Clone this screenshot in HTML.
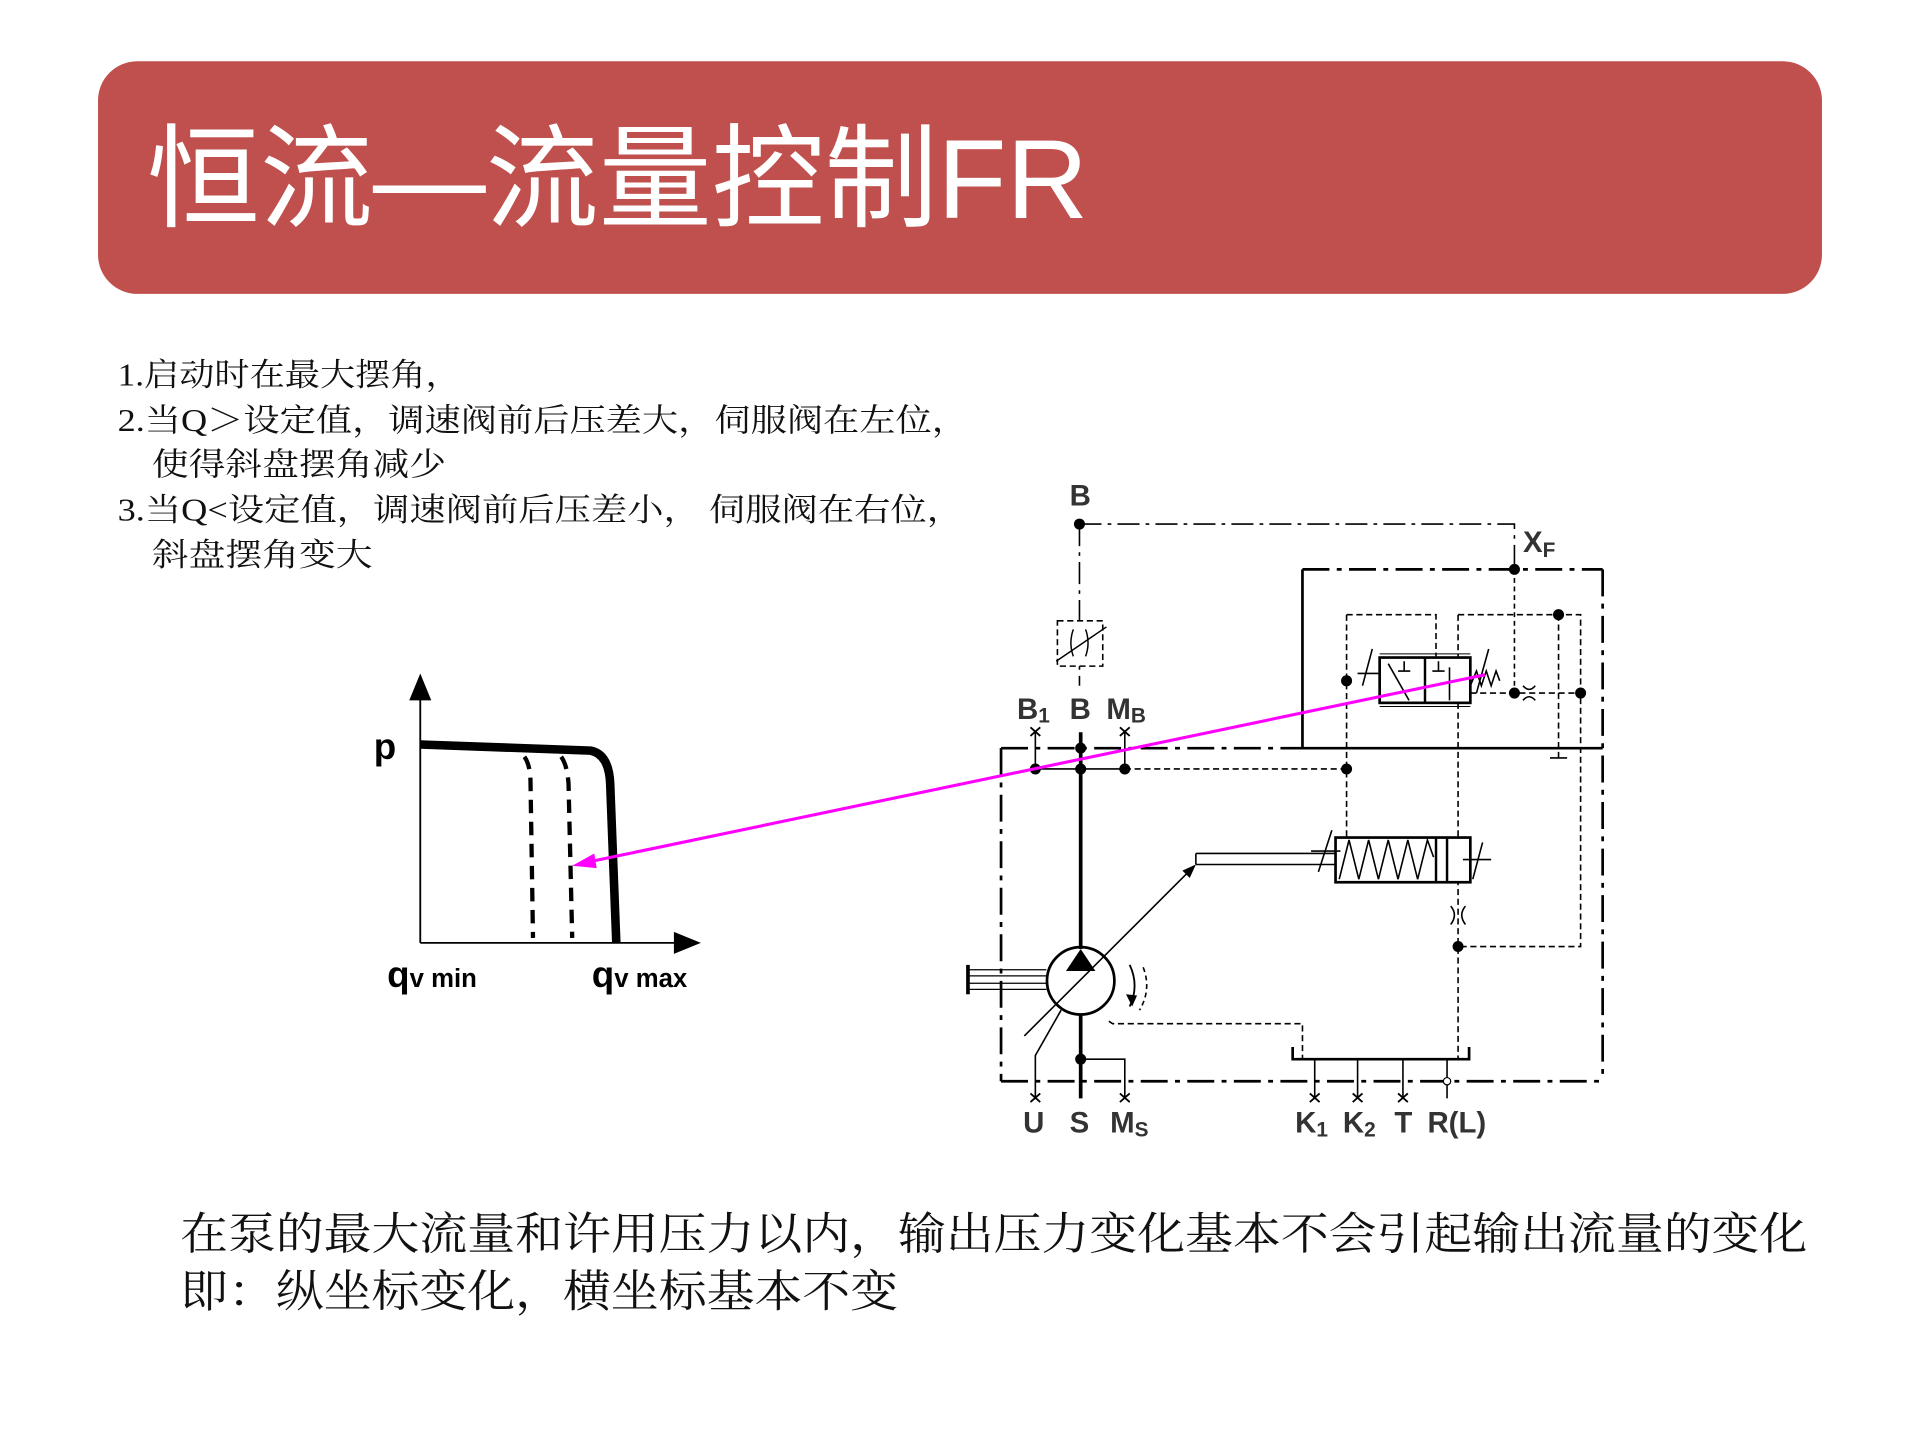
<!DOCTYPE html>
<html><head><meta charset="utf-8"><style>
html,body{margin:0;padding:0;background:#fff;}
svg{display:block;}
text{font-family:"Liberation Sans","Noto Sans CJK SC",sans-serif;}
.sf{font-family:"Liberation Serif","Noto Serif CJK SC",serif;}
</style></head><body>
<svg width="1920" height="1440" viewBox="0 0 1567 1176" preserveAspectRatio="none" xmlns="http://www.w3.org/2000/svg">
<rect x="80" y="50" width="1407" height="190" rx="32" fill="#c0504d"/>
<text x="120" y="178" font-size="92" fill="#fff" textLength="768" lengthAdjust="spacingAndGlyphs">恒流—流量控制FR</text>

<g font-size="26" fill="#111" class="sf">
<text class="sf" x="96" y="315" textLength="280" lengthAdjust="spacingAndGlyphs">1.启动时在最大摆角，</text>
<text class="sf" x="96" y="352" textLength="694" lengthAdjust="spacingAndGlyphs">2.当Q＞设定值，调速阀前后压差大，伺服阀在左位，</text>
<text class="sf" x="124" y="388" textLength="240" lengthAdjust="spacingAndGlyphs">使得斜盘摆角减少</text>
<text class="sf" x="96" y="425" textLength="690" lengthAdjust="spacingAndGlyphs">3.当Q&lt;设定值，调速阀前后压差小， 伺服阀在右位，</text>
<text class="sf" x="124" y="462" textLength="180" lengthAdjust="spacingAndGlyphs">斜盘摆角变大</text>
</g>
<g font-size="36" fill="#111">
<text class="sf" x="147" y="1020" textLength="1328" lengthAdjust="spacingAndGlyphs">在泵的最大流量和许用压力以内，输出压力变化基本不会引起输出流量的变化</text>
<text class="sf" x="147" y="1067" textLength="586" lengthAdjust="spacingAndGlyphs">即：纵坐标变化，横坐标基本不变</text>
</g>

<!-- graph -->
<g stroke="#000" fill="none">
<line x1="343" y1="770" x2="343" y2="565" stroke-width="1.5"/>
<line x1="343" y1="770" x2="555" y2="770" stroke-width="1.5"/>
<path d="M343,608 L482,613 Q497,616 498,640 L503,770" stroke-width="7"/>
<path d="M428,618 Q433,625 433,640 L435,766" stroke-width="3.5" stroke-dasharray="11,7"/>
<path d="M458,618 Q463,625 464,640 L467,766" stroke-width="3.5" stroke-dasharray="11,7"/>
</g>
<polygon points="343,550 334,572 352,572" fill="#000"/>
<polygon points="572,770 550,761 550,779" fill="#000"/>
<g font-weight="bold" fill="#000">
<text x="305" y="620" font-size="30">p</text>
<text x="316" y="806" font-size="30">q<tspan font-size="21">v min</tspan></text>
<text x="483" y="806" font-size="30">q<tspan font-size="21">v max</tspan></text>
</g>

<!-- hydraulic -->
<g stroke="#000" fill="none" stroke-width="1.3">
<path d="M881,428 L1236,428 L1236,465" stroke-dasharray="18,5,3,5"/>
<path d="M881,428 L881,560" stroke-dasharray="18,5,3,5"/>
<rect x="863" y="507" width="37" height="37" stroke-dasharray="5,3" fill="#fff"/>
<path d="M876,514 Q872,525 876,536 M886,514 Q890,525 886,536 M862,540 L903,512" stroke-width="1.2"/>
<path d="M1236,465 L1236,566" stroke-dasharray="4,3"/>
<path d="M817,611 L1063,611" stroke-width="2.2" stroke-dasharray="22,6,4,6"/>
<path d="M817,611 L817,883" stroke-width="2.2" stroke-dasharray="22,6,4,6"/>
<path d="M817,883 L1308,883" stroke-width="2.2" stroke-dasharray="22,6,4,6"/>
<path d="M1308,465 L1308,883" stroke-width="2.2" stroke-dasharray="22,6,4,6"/>
<path d="M1063,465 L1308,465" stroke-width="2.2" stroke-dasharray="22,6,4,6"/>
<path d="M1063,465 L1063,611 M1063,611 L1308,611" stroke-width="2.2"/>
<path d="M882,598 L882,775" stroke-width="3"/>
<path d="M882,828 L882,897" stroke-width="3"/>
<path d="M845,598 L845,628 L918,628 L918,598"/>
<path d="M918,628 L1099,628" stroke-dasharray="5,3"/>
<path d="M1099,502 L1099,684 M1099,502 L1172,502 L1172,536" stroke-dasharray="5,3"/>
<path d="M1190,502 L1290,502 L1290,773 L1190,773 M1190,502 L1190,865" stroke-dasharray="5,3"/>
<path d="M1272,502 L1272,619" stroke-dasharray="5,3"/>
<path d="M1265,619 L1279,619"/>
<path d="M1200,566 L1290,566" stroke-dasharray="5,3"/>
<rect x="1126" y="537" width="74" height="37" stroke-width="2.2" fill="#fff"/>
<line x1="1163" y1="537" x2="1163" y2="574" stroke-width="2"/>
<path d="M1126,534 L1200,534 M1126,577 L1200,577" stroke-width="0.8"/>
<path d="M1133,542 L1150,572 M1183,572 L1183,545 M1146,540 L1146,548 M1141,548 L1151,548 M1174,540 L1174,548 M1169,548 L1179,548"/>
<path d="M1200,560 L1205,548 L1209,560 L1213,548 L1217,560 L1221,548 L1224,556" />
<path d="M1205,566 L1215,530"/>
<path d="M1112,560 L1120,530 M1108,550 L1126,550"/>
<path d="M1243,560 Q1248,566 1253,560 M1243,572 Q1248,566 1253,572"/>
<rect x="1090" y="684" width="110" height="36.5" stroke-width="2.2" fill="#fff"/>
<path d="M1172,684 L1172,720 M1181,684 L1181,720" stroke-width="2"/>
<path d="M1093,718 L1101,686 L1109,718 L1117,686 L1125,718 L1133,686 L1141,718 L1149,686 L1157,718 L1165,686 L1170,700"/>
<path d="M976,697 L1090,697 M976,706 L1090,706 M976,697 L976,706"/>
<path d="M1076,712 L1087,678 M1070,695 L1094,695"/>
<path d="M1202,718 L1210,688 M1194,702 L1217,702"/>
<path d="M1184,740 Q1190,747 1184,755 M1196,740 Q1190,747 1196,755"/>
<circle cx="882" cy="801" r="27.5" stroke-width="2.2"/>
<path d="M836,846 L975,707" />
<path d="M790,792 L854,792 M790,808 L854,808 M790,797 L854,797 M790,803 L854,803" stroke-width="1"/>
<path d="M790,788 L790,812" stroke-width="3"/>
<path d="M922,788 Q930,805 922,822" stroke-width="1.5"/>
<path d="M933,790 Q940,808 930,825" stroke-dasharray="4,3"/>
<path d="M845,897 L845,862 L866,825"/>
<path d="M882,865 L918,865 L918,897"/>
<path d="M905,834 L908,836 L1063,836 L1063,865" stroke-dasharray="5,3"/>
<path d="M1055,855 L1055,865 L1199,865 L1199,855" stroke-width="2.2"/>
<path d="M1073,865 L1073,897 M1108,865 L1108,897 M1145,865 L1145,897 M1181,865 L1181,897"/>
</g>
<polygon points="882,775 870,793 894,793" fill="#000"/>
<polygon points="976,706 965,711 971,717" fill="#000"/>
<polygon points="924,822 919,812 928,813" fill="#000"/>
<g fill="#000">
<circle cx="881" cy="428" r="4.5"/><circle cx="1236" cy="465" r="4.5"/>
<circle cx="882" cy="611" r="4.5"/><circle cx="845" cy="628" r="4.5"/><circle cx="882" cy="628" r="4.5"/><circle cx="918" cy="628" r="4.5"/>
<circle cx="1099" cy="628" r="4.5"/><circle cx="1099" cy="556" r="4.5"/>
<circle cx="1272" cy="502" r="4.5"/><circle cx="1236" cy="566" r="4.5"/><circle cx="1290" cy="566" r="4.5"/>
<circle cx="1190" cy="773" r="4.5"/><circle cx="882" cy="865" r="4.5"/>
</g>
<g stroke="#000" stroke-width="1.5">
<path d="M841,594 L849,601 M849,594 L841,601 M914,594 L922,601 M922,594 L914,601"/>
<path d="M841,893 L849,900 M849,893 L841,900 M914,893 L922,900 M922,893 L914,900"/>
<path d="M1069,893 L1077,900 M1077,893 L1069,900 M1104,893 L1112,900 M1112,893 L1104,900 M1141,893 L1149,900 M1149,893 L1141,900"/>
</g>
<circle cx="1181" cy="883" r="3" fill="#fff" stroke="#000"/>
<g font-weight="bold" fill="#333" font-size="24">
<text x="873" y="413">B</text>
<text x="1243" y="451">X<tspan font-size="17" dy="4">F</tspan></text>
<text x="830" y="587">B<tspan font-size="17" dy="3">1</tspan></text>
<text x="873" y="587">B</text>
<text x="903" y="587">M<tspan font-size="17" dy="3">B</tspan></text>
<text x="835" y="925">U</text>
<text x="873" y="925">S</text>
<text x="906" y="925">M<tspan font-size="17" dy="3">S</tspan></text>
<text x="1057" y="925">K<tspan font-size="17" dy="3">1</tspan></text>
<text x="1096" y="925">K<tspan font-size="17" dy="3">2</tspan></text>
<text x="1138" y="925">T</text>
<text x="1165" y="925">R(L)</text>
</g>
<line x1="1212" y1="551" x2="480" y2="704" stroke="#ff00ff" stroke-width="2.5"/>
<polygon points="467,707 485,697 487,709" fill="#ff00ff"/>
</svg>
</body></html>
